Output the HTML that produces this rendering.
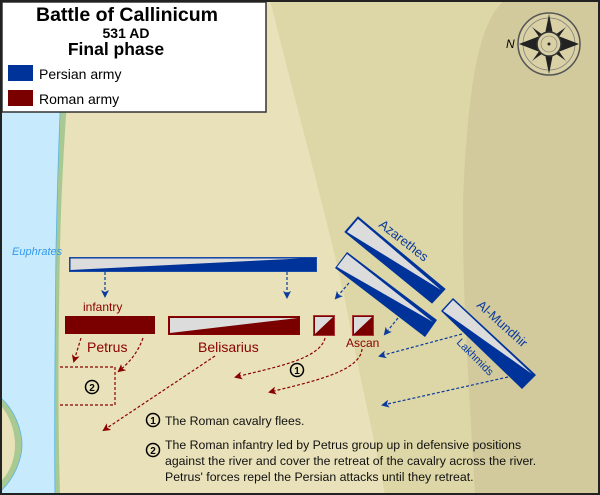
<!DOCTYPE html>
<html><head><meta charset="utf-8"><style>
html,body{margin:0;padding:0;background:#fff}
svg{display:block}
text{font-family:"Liberation Sans",sans-serif}
</style></head><body>
<svg width="600" height="495" viewBox="0 0 600 495" xmlns="http://www.w3.org/2000/svg">
<defs>
<marker id="ab" markerWidth="8" markerHeight="8" refX="6" refY="4" orient="auto" markerUnits="userSpaceOnUse"><path d="M0,0 L8,4 L0,8 L2,4z" fill="#0a3a9e"/></marker>
<marker id="ar" markerWidth="8" markerHeight="8" refX="6" refY="4" orient="auto" markerUnits="userSpaceOnUse"><path d="M0,0 L8,4 L0,8 L2,4z" fill="#8b0000"/></marker>
</defs>
<rect width="600" height="495" fill="#e8e1b9"/>
<path d="M270,0 C300,120 330,230 345,300 C360,380 375,440 385,495 L600,495 L600,0Z" fill="#ddd6a6"/>
<path d="M505,0 C480,20 468,80 463,200 C462,300 470,400 475,495 L600,495 L600,0Z" fill="#d2ca9c"/>
<!-- river -->
<path d="M0,0 L75,0 C70,60 62,150 60,250 C58,350 58,430 60,495 L0,495Z" fill="#a9c992"/>
<path d="M0,0 L66,0 C62,60 58,150 56,250 C55,350 54,430 55,495 L0,495Z" fill="#c7ebfd" stroke="#5ab4e6" stroke-width="0.8"/>
<path d="M0,397 C15,410 22,430 22,445 C22,460 14,478 2,490 L0,490Z" fill="#a9c992" stroke="#5ab4e6" stroke-width="0.8"/>
<path d="M0,405 C10,415 15,432 15,445 C15,460 9,474 0,482Z" fill="#e8e1b9"/>
<!-- legend -->
<rect x="2" y="2" width="264" height="110" fill="#fff" stroke="#333" stroke-width="1.5"/>
<text x="127" y="21" font-size="19.5" font-weight="bold" text-anchor="middle">Battle of Callinicum</text>
<text x="126" y="38" font-size="14" font-weight="bold" text-anchor="middle">531 AD</text>
<text x="116" y="55" font-size="17.5" font-weight="bold" text-anchor="middle">Final phase</text>
<rect x="8" y="65" width="25" height="16" fill="#003399"/>
<text x="39" y="79" font-size="14">Persian army</text>
<rect x="8" y="90" width="25" height="16" fill="#7a0000"/>
<text x="39" y="104" font-size="14">Roman army</text>
<!-- compass -->
<g transform="translate(549,44)">
<circle r="31" fill="#d9d1a5" stroke="#555" stroke-width="1.5"/>
<circle r="26" fill="none" stroke="#777" stroke-width="0.7"/>
<g fill="#888"><path d="M0,-4 L18,-18 L4,0 L18,18 L0,4 L-18,18 L-4,0 L-18,-18Z"/></g>
<g fill="#222"><path d="M0,-30 L4,-10 L30,0 L4,10 L0,30 L-4,10 L-30,0 L-4,-10Z"/>
<path d="M0,-5 L16,-16 L5,0 L16,16 L0,5 L-16,16 L-5,0 L-16,-16Z"/></g>
<circle r="12" fill="#d9d1a5" stroke="#333" stroke-width="1.5"/>
<circle r="8" fill="none" stroke="#777" stroke-width="0.6"/>
<circle r="1.5" fill="#222"/>
<text x="-43" y="4" font-size="12" font-style="italic" font-family="Liberation Serif,serif">N</text>
</g>
<!-- Persian line -->
<text x="12" y="255" font-size="11" font-style="italic" fill="#3399ee">Euphrates</text>
<rect x="69.5" y="257.5" width="247" height="14" fill="#003399" stroke="#1a4aa8"/>
<polygon points="70.5,258.5 70.5,270 300,258.5" fill="#dcdcdc"/>
<g stroke="#0a3a9e" stroke-width="1.2" stroke-dasharray="3,2" fill="none">
<line x1="105" y1="272" x2="105" y2="296" marker-end="url(#ab)"/>
<line x1="287" y1="272" x2="287" y2="297" marker-end="url(#ab)"/>
<line x1="349" y1="283" x2="336" y2="298" marker-end="url(#ab)"/>
<line x1="398" y1="318" x2="385" y2="334" marker-end="url(#ab)"/>
<line x1="462" y1="334" x2="380" y2="356" marker-end="url(#ab)"/>
<line x1="508" y1="377" x2="383" y2="405" marker-end="url(#ab)"/>
</g>
<!-- Persian rotated blocks -->
<polygon points="358,217 345,232 432,303 445,289" fill="#003399" stroke="#003399"/>
<polygon points="358,219 347,232 441,290" fill="#dcdcdc"/>
<polygon points="347,252 335,268 425,337 437,320" fill="#003399"/>
<polygon points="347,254 337,267 433,322" fill="#dcdcdc"/>
<polygon points="453,298 441,311 522,389 536,375" fill="#003399"/>
<polygon points="453,300 443,311 532,374" fill="#dcdcdc"/>
<text transform="translate(378,226) rotate(38)" font-size="13" fill="#0a3a9e">Azarethes</text>
<text transform="translate(476,306) rotate(42)" font-size="13" fill="#0a3a9e">Al-Mundhir</text>
<text transform="translate(456,343) rotate(45)" font-size="11" fill="#0a3a9e">Lakhmids</text>
<!-- Roman -->
<text x="83" y="311" font-size="12" fill="#8b0000">infantry</text>
<rect x="65" y="316" width="90" height="18" fill="#7a0000"/>
<rect x="168.5" y="316.5" width="131" height="18" fill="#7a0000" stroke="#8b0000"/>
<polygon points="170,318 170,333 298,318" fill="#dcdcdc"/>
<rect x="313.5" y="315.5" width="21" height="20" fill="#7a0000" stroke="#a33"/>
<polygon points="315,317 315,334 333,317" fill="#dcdcdc"/>
<rect x="352.5" y="315.5" width="21" height="20" fill="#7a0000" stroke="#a33"/>
<polygon points="354,317 354,334 372,317" fill="#dcdcdc"/>
<text x="87" y="352" font-size="14" fill="#8b0000">Petrus</text>
<text x="198" y="352" font-size="14" fill="#8b0000">Belisarius</text>
<text x="346" y="347" font-size="12" fill="#8b0000">Ascan</text>
<g stroke="#8b0000" stroke-width="1.2" stroke-dasharray="3,2" fill="none">
<path d="M81,338 L74,361" marker-end="url(#ar)"/>
<path d="M143,338 C138,352 130,362 119,371" marker-end="url(#ar)"/>
<path d="M215,356 L104,430" marker-end="url(#ar)"/>
<path d="M325,338 C320,360 270,368 236,377" marker-end="url(#ar)"/>
<path d="M362,349 C360,372 310,382 270,392" marker-end="url(#ar)"/>
<path d="M60,367 L115,367 L115,405 L60,405"/>
</g>
<g fill="none" stroke="#000" stroke-width="1.5">
<circle cx="92" cy="387" r="6.5"/><circle cx="297" cy="370" r="6.5"/>
<circle cx="153" cy="420" r="6.5"/><circle cx="153" cy="450" r="6.5"/>
</g>
<g font-size="10" font-weight="bold" text-anchor="middle">
<text x="92" y="391">2</text><text x="297" y="374">1</text>
<text x="153" y="424">1</text><text x="153" y="454">2</text>
</g>
<g font-size="12.3" fill="#111">
<text x="165" y="425">The Roman cavalry flees.</text>
<text x="165" y="449">The Roman infantry led by Petrus group up in defensive positions</text>
<text x="165" y="465">against the river and cover the retreat of the cavalry across the river.</text>
<text x="165" y="481">Petrus' forces repel the Persian attacks until they retreat.</text>
</g>
<rect x="1" y="1" width="598" height="493" fill="none" stroke="#222" stroke-width="2"/>
</svg>
</body></html>
